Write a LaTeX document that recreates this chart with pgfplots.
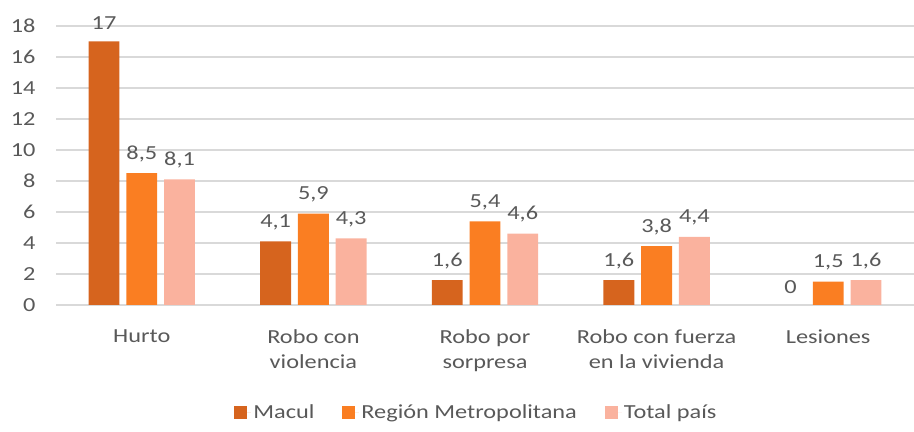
\documentclass[border=0pt]{standalone}
\usepackage{fontspec}
\setmainfont{Carlito}[FakeStretch=1.22]
\usepackage{pgfplots}
\pgfplotsset{compat=1.18}
\definecolor{cMac}{RGB}{214,100,30}
\definecolor{cRM}{RGB}{250,126,34}
\definecolor{cTP}{RGB}{250,178,158}
\definecolor{txt}{RGB}{89,89,89}
\definecolor{grd}{RGB}{217,217,217}
\begin{document}
\begin{tikzpicture}
\path[use as bounding box] (0,0) rectangle (914bp,432bp);
\begin{axis}[
  at={(56bp,127bp)}, anchor=south west,
  scale only axis, width=858bp, height=279bp,
  xmin=-0.5, xmax=4.5, ymin=0, ymax=18,
  ytick={0,2,...,18},
  xtick={0,1,2,3,4},
  xticklabels={Hurto,{Robo con\\violencia},{Robo por\\sorpresa},{Robo con fuerza\\en la vivienda},Lesiones},
  axis line style={draw=none},
  major tick length=0pt,
  ymajorgrids, grid style={grd, line width=1.5bp},
  font=\fontsize{20}{25}\selectfont,
  every tick label/.append style={text=txt},
  /pgf/number format/assume math mode=true,
  /pgf/number format/use comma,
  yticklabel style={xshift=-17bp},
  xticklabel style={align=center, yshift=-21bp},
  ybar, bar width=0.18,
  nodes near coords,
  every node near coord/.append style={text=txt, font=\fontsize{20}{24}\selectfont, yshift=8bp},
  legend style={at={(0.49,-0.384)}, anchor=center, draw=none, fill=none, legend columns=3,
    font=\fontsize{20}{24}\selectfont, text=txt,
    /tikz/every even column/.append style={column sep=26bp}},
  legend image code/.code={\fill[#1] (0bp,-6.5bp) rectangle (13bp,6.5bp); \path (0bp,0bp) rectangle (17bp,0bp);},
]
\addplot[fill=cMac, draw=none, bar shift=-0.22] coordinates {(0,17) (1,4.1) (2,1.6) (3,1.6) (4,0)};
\addplot[fill=cRM, draw=none, bar shift=0] coordinates {(0,8.5) (1,5.9) (2,5.4) (3,3.8) (4,1.5)};
\addplot[fill=cTP, draw=none, bar shift=0.22] coordinates {(0,8.1) (1,4.3) (2,4.6) (3,4.4) (4,1.6)};
\legend{Macul, Región Metropolitana, Total país}
\end{axis}
\end{tikzpicture}
\end{document}
